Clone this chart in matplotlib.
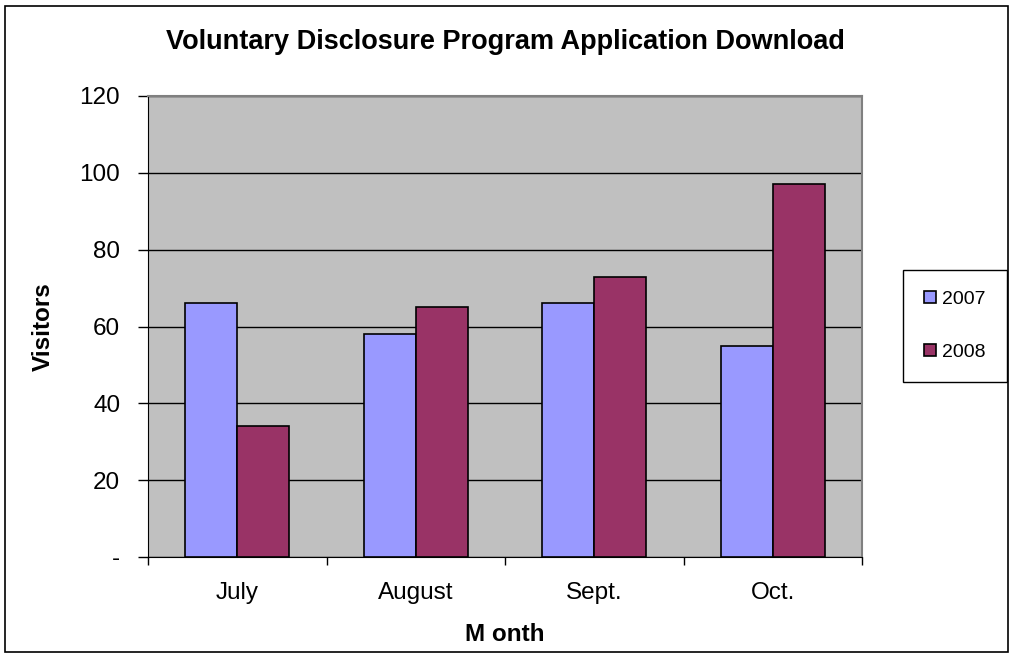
import matplotlib
matplotlib.use("Agg")
import matplotlib.pyplot as plt
import numpy as np
from matplotlib.patches import Rectangle

months = ["July", "August", "Sept.", "Oct."]
series_names = ["2007", "2008"]
v2007 = [66, 58, 66, 55]
v2008 = [34, 65, 73, 97]
yticks = [0, 20, 40, 60, 80, 100, 120]
ytick_labels = ["-", "20", "40", "60", "80", "100", "120"]

plt.rcParams['font.family'] = ['Liberation Sans', 'DejaVu Sans']

fig = plt.figure(figsize=(10.10, 6.55), dpi=100)
ax = fig.add_axes([148/1010, 98/655, 714/1010, 461/655])

x = np.arange(len(months))
w = 0.29
ax.bar(x - w/2, v2007, w, color="#9999FF", edgecolor="black", linewidth=1.2, label=series_names[0], zorder=3)
ax.bar(x + w/2, v2008, w, color="#993366", edgecolor="black", linewidth=1.2, label=series_names[1], zorder=3)

ax.set_facecolor("#C0C0C0")
ax.set_xlim(-0.5, 3.5)
ax.set_ylim(0, 120)
ax.set_yticks(yticks)
ax.set_yticklabels(ytick_labels, fontsize=17.5)
ax.yaxis.grid(True, color="black", linewidth=1.0, zorder=1)
ax.set_axisbelow(True)

ax.set_xticks(x)
ax.set_xticklabels(months, fontsize=17.5)
ax.tick_params(axis='x', length=0, pad=18)
ax.set_xticks(np.arange(-0.5, 4.0, 1.0), minor=True)
ax.tick_params(axis='x', which='minor', length=6, width=1, direction='out')
ax.tick_params(axis='y', length=7, width=1, direction='out', pad=13)

for s in ["top", "right"]:
    ax.spines[s].set_color("#808080")
    ax.spines[s].set_linewidth(1.5)
ax.spines["left"].set_color("black")
ax.spines["bottom"].set_color("black")

ax.set_ylabel("Visitors", fontsize=17.5, fontweight="bold", labelpad=18)
ax.set_xlabel("M onth", fontsize=17.5, fontweight="bold", labelpad=14)
fig.text(0.5, 1 - 42/655, "Voluntary Disclosure Program Application Download",
         ha="center", va="center", fontsize=19.5, fontweight="bold")

leg = fig.legend(loc="center", bbox_to_anchor=(955/1010, 1 - 326/655), fontsize=14,
                 frameon=True, fancybox=False, edgecolor="black", framealpha=1,
                 handlelength=0.6, handleheight=0.6, handletextpad=0.35,
                 labelspacing=1.85, borderpad=1.1, borderaxespad=0)
leg.get_frame().set_linewidth(1.0)

fig.patches.append(Rectangle((5/1010, 3/655), 1003/1010, 646/655, transform=fig.transFigure,
                             fill=False, edgecolor="black", linewidth=1.2))

fig.savefig("out.png", dpi=100)
